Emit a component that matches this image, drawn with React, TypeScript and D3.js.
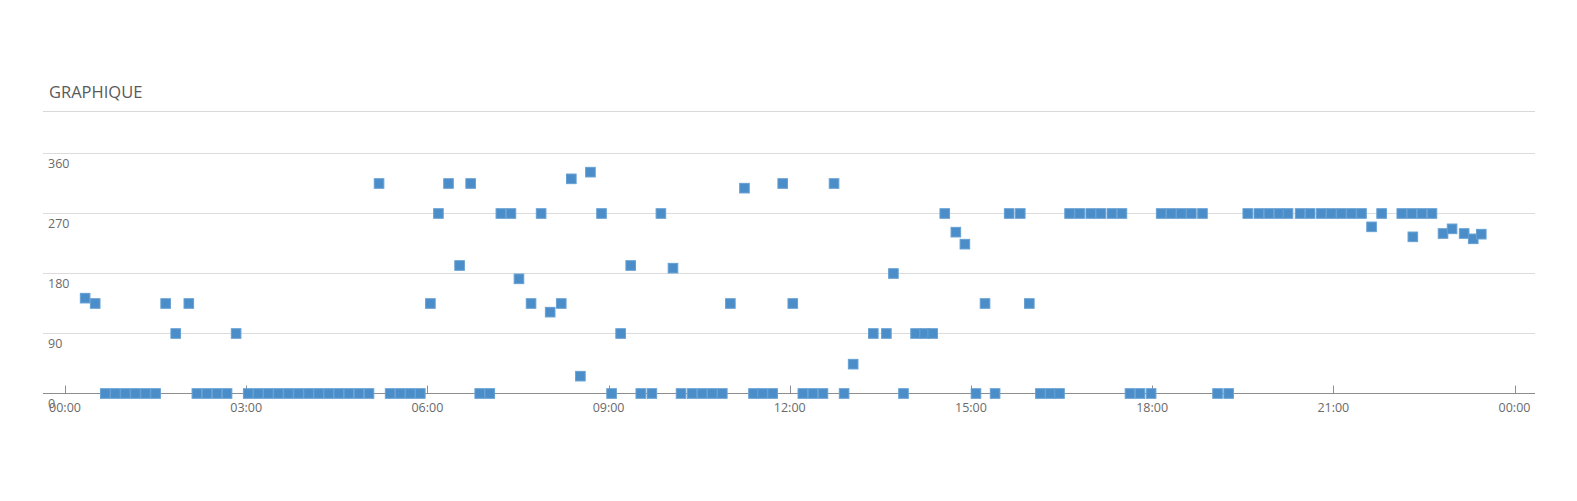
import React from 'react';
import * as d3 from 'd3';

const TITLE = 'GRAPHIQUE';

const times: string[] = [
  '00:20', '00:30', '00:40', '00:50', '01:00', '01:10', '01:20', '01:30', '01:40', '01:50',
  '02:03', '02:11', '02:21', '02:31', '02:41', '02:50', '03:02', '03:12', '03:22', '03:32',
  '03:42', '03:52', '04:02', '04:12', '04:22', '04:32', '04:42', '04:52', '05:02', '05:12',
  '05:23', '05:33', '05:43', '05:53', '06:03', '06:11', '06:21', '06:32', '06:43', '06:52',
  '07:02', '07:13', '07:23', '07:31', '07:43', '07:53', '08:02', '08:13', '08:23', '08:32',
  '08:42', '08:53', '09:03', '09:12', '09:22', '09:32', '09:43', '09:52', '10:04', '10:12',
  '10:23', '10:33', '10:43', '10:53', '11:01', '11:15', '11:24', '11:33', '11:43', '11:53',
  '12:03', '12:13', '12:23', '12:33', '12:44', '12:54', '13:03', '13:23', '13:36', '13:43',
  '13:53', '14:05', '14:14', '14:22', '14:34', '14:45', '14:54', '15:05', '15:14', '15:24',
  '15:38', '15:49', '15:58', '16:09', '16:19', '16:28', '16:38', '16:48', '16:59', '17:09',
  '17:20', '17:30', '17:38', '17:48', '17:59', '18:09', '18:19', '18:29', '18:39', '18:50',
  '19:05', '19:16', '19:35', '19:46', '19:56', '20:06', '20:15', '20:27', '20:37', '20:48',
  '20:58', '21:08', '21:18', '21:28', '21:38', '21:48', '22:08', '22:18', '22:19', '22:28',
  '22:38', '22:49', '22:58', '23:10', '23:19', '23:27',
];

const values: number[] = [
  143, 135, 0, 0, 0, 0, 0, 0, 135, 90,
  135, 0, 0, 0, 0, 90, 0, 0, 0, 0,
  0, 0, 0, 0, 0, 0, 0, 0, 0, 315,
  0, 0, 0, 0, 135, 270, 315, 192, 315, 0,
  0, 270, 270, 172, 135, 270, 122, 135, 322, 26,
  332, 270, 0, 90, 192, 0, 0, 270, 188, 0,
  0, 0, 0, 0, 135, 308, 0, 0, 0, 315,
  135, 0, 0, 0, 315, 0, 44, 90, 90, 180,
  0, 90, 90, 90, 270, 242, 224, 0, 135, 0,
  270, 270, 135, 0, 0, 0, 270, 270, 270, 270,
  270, 270, 0, 0, 0, 270, 270, 270, 270, 270,
  0, 0, 270, 270, 270, 270, 270, 270, 270, 270,
  270, 270, 270, 270, 250, 270, 270, 270, 235, 270,
  270, 240, 247, 240, 232, 239,
];

const yTicks: number[] = [0, 90, 180, 270, 360];
const xTickHours: number[] = [0, 3, 6, 9, 12, 15, 18, 21, 24];
const xTickLabels: string[] = ['00:00', '03:00', '06:00', '09:00', '12:00', '15:00', '18:00', '21:00', '00:00'];

const FONT = "'Open Sans', 'Noto Sans', sans-serif";

export default function App() {
  const W = 1577;
  const H = 501;
  const left = 43;
  const right = 1535;
  const x = d3.scaleLinear().domain([0, 1440]).range([65, 1514.5]);
  const y = d3.scaleLinear().domain([0, 360]).range([393.5, 153.5]);
  const toMin = (s: string) => {
    const [h, m] = s.split(':').map(Number);
    return h * 60 + m;
  };
  const pts = times.map((t, i) => ({ t: toMin(t), v: values[i] }));
  const size = 9.6;

  return (
    <svg width={W} height={H} style={{ position: 'absolute', left: 0, top: 0, background: '#fff' }}>
      <text x={49} y={98} fontFamily={FONT} fontSize={16.5} fill="#5a5a5a">{TITLE}</text>
      <line x1={left} x2={right} y1={111.5} y2={111.5} stroke="#d9d9d9" strokeWidth={1} />
      {yTicks.filter((v) => v > 0).map((v) => (
        <line key={'g' + v} x1={left} x2={right} y1={y(v)} y2={y(v)} stroke="#dcdcdc" strokeWidth={1} />
      ))}
      <line x1={left} x2={right} y1={y(0)} y2={y(0)} stroke="#8e8e8e" strokeWidth={1} />
      {xTickHours.map((h) => (
        <line key={'t' + h} x1={Math.round(x(h * 60)) + 0.5} x2={Math.round(x(h * 60)) + 0.5} y1={y(0) - 8} y2={y(0)} stroke="#8e8e8e" strokeWidth={1} />
      ))}
      {yTicks.map((v) => (
        <text key={'yl' + v} x={48} y={y(v) + 14.5} fontFamily={FONT} fontSize={12.5} fill="#6a6a6a">{v}</text>
      ))}
      {xTickHours.map((h, i) => (
        <text key={'xl' + h} x={x(h * 60)} y={412} textAnchor="middle" fontFamily={FONT} fontSize={12.5} fill="#6a6a6a">{xTickLabels[i]}</text>
      ))}
      <g>
        {pts.map((p, i) => (
          <rect
            key={'p' + i}
            x={x(p.t) - size / 2}
            y={y(p.v) - size / 2}
            width={size}
            height={size}
            fill="#4a8dc8"
            stroke="#66a1d4"
            strokeWidth={1}
          />
        ))}
      </g>
    </svg>
  );
}
